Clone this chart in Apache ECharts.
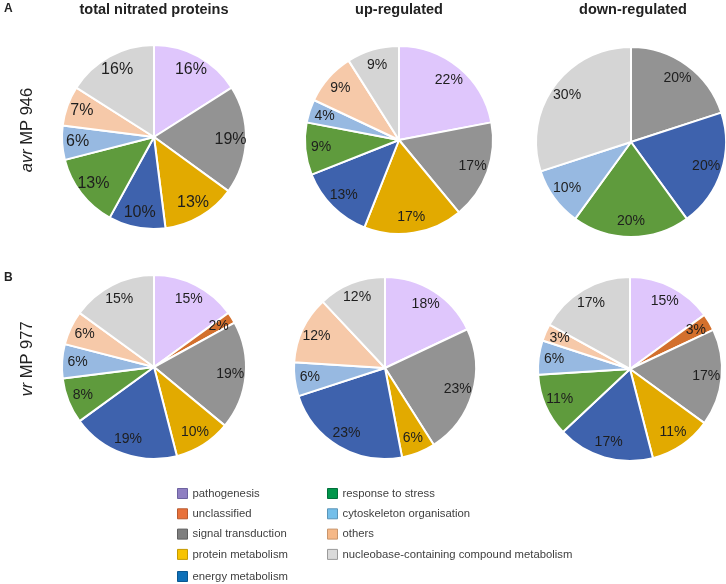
<!DOCTYPE html>
<html>
<head>
<meta charset="utf-8">
<script src="https://cdn.jsdelivr.net/npm/echarts@6/dist/echarts.min.js"></script>
<style>
html,body{margin:0;padding:0;background:#fff;}
#main{width:726px;height:584px;}
</style>
</head>
<body>
<div id="main"></div>
<script>
// ---- data ----
const categories = ['pathogenesis','unclassified','signal transduction','protein metabolism','energy metabolism','response to stress','cytoskeleton organisation','others','nucleobase-containing compound metabolism'];
const columnTitles = ['total nitrated proteins','up-regulated','down-regulated'];
const avrTotal = [16, 0, 19, 13, 10, 13, 6, 7, 16];
const avrUp    = [22, 0, 17, 17, 13, 9, 4, 9, 9];
const avrDown  = [0, 0, 20, 0, 20, 20, 10, 0, 30];
const vrTotal  = [15, 2, 19, 10, 19, 8, 6, 6, 15];
const vrUp     = [18, 0, 23, 6, 23, 0, 6, 12, 12];
const vrDown   = [15, 3, 17, 11, 17, 11, 6, 3, 17];

// ---- styles ----
const sliceColors = ['#dfc6fc','#d3702d','#939393','#e2aa00','#3e62ad','#5f9b3d','#97b9e1','#f6c9a9','#d5d5d5'];
const legendColors = ['#8f7fc2','#e8713b','#7f7f7f','#f7c300','#0e70b8','#00964b','#74bfea','#f6b887','#dadada'];
const legendBorders = ['#6d62a0','#b85a30','#606060','#c49a00','#0a5791','#00703a','#5a95b8','#c8956c','#9a9a9a'];
const FONT = 'Liberation Sans, Arial, sans-serif';

const pies = [
  {vals: avrTotal, c:[154,137], r:92, fs:16},
  {vals: avrUp,    c:[399,140], r:94, fs:14},
  {vals: avrDown,  c:[631,142], r:95, fs:14},
  {vals: vrTotal,  c:[154,367], r:92, fs:14},
  {vals: vrUp,     c:[385,368], r:91, fs:14},
  {vals: vrDown,   c:[630,369], r:92, fs:14}
];

const series = [];
pies.forEach((p, i) => {
  const data = [];
  p.vals.forEach((v, k) => {
    if (v > 0) data.push({name: categories[k], value: v, itemStyle: {color: sliceColors[k]}});
  });
  series.push({
    type: 'pie', name: 'pie' + i, center: p.c, radius: [0, p.r],
    startAngle: 90, clockwise: true, animation: false, silent: true,
    itemStyle: {borderColor: '#fff', borderWidth: 2},
    label: {show: false}, labelLine: {show: false},
    emphasis: {disabled: true},
    data: data
  });
  // label-only overlay so labels sit at ~0.8 of the radius
  series.push({
    type: 'pie', name: 'lbl' + i, center: p.c, radius: [0, p.r * 1.6],
    startAngle: 90, clockwise: true, animation: false, silent: true,
    itemStyle: {color: 'rgba(0,0,0,0)', borderWidth: 0},
    label: {show: true, position: 'inside', formatter: '{c}%', color: '#1e1e1e',
            fontFamily: FONT, fontSize: p.fs},
    labelLine: {show: false},
    emphasis: {disabled: true},
    data: data.map(d => ({name: d.name, value: d.value}))
  });
});

function legendItems(idxs) {
  return idxs.map(k => ({
    name: categories[k], icon: 'rect',
    itemStyle: {color: legendColors[k], borderColor: legendBorders[k], borderWidth: 1}
  }));
}
const legendCommon = {
  orient: 'vertical', selectedMode: false, itemWidth: 10, itemHeight: 10,
  itemGap: 9.3, padding: 0,
  textStyle: {fontFamily: FONT, fontSize: 11.3, color: '#404040'}
};

const titles = columnTitles.map((t, i) => ({
  text: t, left: [154, 399, 633][i], top: 2, padding: 0, textAlign: 'center',
  textStyle: {fontFamily: FONT, fontSize: 14.5, fontWeight: 'bold', color: '#222'}
}));

const chart = echarts.init(document.getElementById('main'), null, {renderer: 'canvas'});
chart.setOption({
  backgroundColor: '#fff',
  animation: false,
  title: titles,
  legend: [
    Object.assign({}, legendCommon, {left: 177, top: 488, data: legendItems([0,1,2,3])}),
    Object.assign({}, legendCommon, {left: 177, top: 571, data: legendItems([4])}),
    Object.assign({}, legendCommon, {left: 327, top: 488, data: legendItems([5,6,7,8])})
  ],
  graphic: [
    {type: 'text', left: 4, top: 3, style: {text: 'A', font: 'bold 12px ' + FONT, fill: '#222'}},
    {type: 'text', left: 4, top: 272, style: {text: 'B', font: 'bold 12px ' + FONT, fill: '#222'}},
    {type: 'text', x: 27, y: 130, rotation: Math.PI / 2,
     style: {text: '{i|avr} MP 946', textAlign: 'center', textVerticalAlign: 'middle',
       font: '16.5px ' + FONT, fill: '#222',
       rich: {i: {fontStyle: 'italic', fontSize: 16.5, fontFamily: FONT, fill: '#222'}}}},
    {type: 'text', x: 27, y: 359, rotation: Math.PI / 2,
     style: {text: '{i|vr} MP 977', textAlign: 'center', textVerticalAlign: 'middle',
       font: '16.5px ' + FONT, fill: '#222',
       rich: {i: {fontStyle: 'italic', fontSize: 16.5, fontFamily: FONT, fill: '#222'}}}}
  ],
  series: series
});
</script>
</body>
</html>
